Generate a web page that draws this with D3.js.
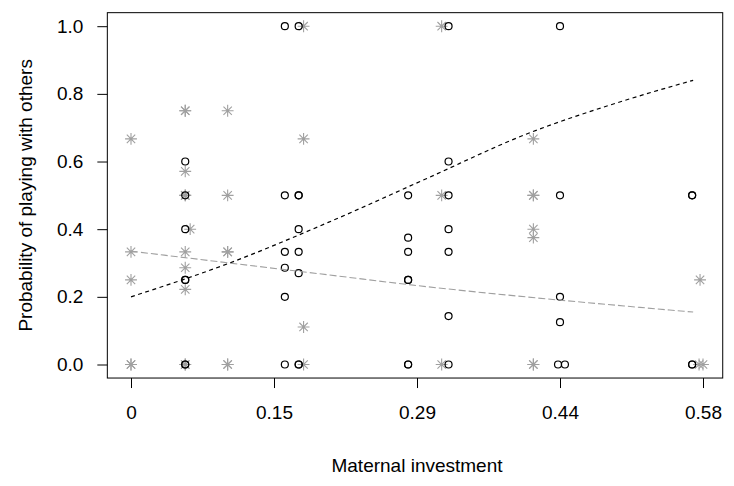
<!DOCTYPE html>
<html>
<head>
<meta charset="utf-8">
<script src="https://cdn.jsdelivr.net/npm/d3@7"></script>
<style>
  body { margin: 0; background: #fff; }
  text { font-family: "Liberation Sans", Arial, sans-serif; fill: #000; }
</style>
</head>
<body>
<div id="chart"></div>
<script>
// Dimensions of the page.
var width = 734;
var height = 486;

// Black open circles: maternal investment vs probability.
var circleX = [0.055, 0.055, 0.055, 0.055, 0.055, 0.055, 0.055,
               0.156, 0.156, 0.156, 0.156, 0.156, 0.156,
               0.170, 0.170, 0.170, 0.170, 0.170, 0.170, 0.170, 0.170,
               0.281, 0.281, 0.281, 0.281, 0.281, 0.281, 0.281,
               0.322, 0.322, 0.322, 0.322, 0.322, 0.322, 0.322,
               0.435, 0.435, 0.435, 0.435, 0.433, 0.440,
               0.569, 0.569, 0.569, 0.569];
var circleY = [0.60, 0.50, 0.40, 0.25, 0.25, 0, 0,
               1.00, 0.50, 0.333, 0.286, 0.20, 0,
               1.00, 0.50, 0.50, 0.40, 0.333, 0.27, 0, 0,
               0.50, 0.375, 0.333, 0.25, 0.25, 0, 0,
               1.00, 0.60, 0.50, 0.40, 0.333, 0.143, 0,
               1.00, 0.50, 0.20, 0.125, 0, 0,
               0.50, 0.50, 0, 0];

// Grey asterisks.
var starX = [0, 0, 0, 0, 0,
             0.055, 0.055, 0.055, 0.055, 0.055, 0.055, 0.055, 0.055, 0.055, 0.055, 0.060,
             0.098, 0.098, 0.098, 0.098, 0.098, 0.098,
             0.175, 0.175, 0.175, 0.175,
             0.315, 0.315, 0.315,
             0.408, 0.408, 0.408, 0.408, 0.408, 0.408, 0.408,
             0.577, 0.576, 0.580];
var starY = [0.667, 0.333, 0.25, 0, 0,
             0.75, 0.75, 0.571, 0.50, 0.50, 0.333, 0.286, 0.222, 0, 0, 0.40,
             0.75, 0.50, 0.333, 0.333, 0, 0,
             1.00, 0.667, 0.111, 0,
             1.00, 0.50, 0,
             0.667, 0.50, 0.50, 0.40, 0.375, 0, 0,
             0.25, 0, 0];

// Fitted curves.
var fitX = [0, 0.10, 0.20, 0.30, 0.40, 0.50, 0.57];
var fitBlack = [0.20, 0.30, 0.42, 0.55, 0.68, 0.78, 0.84];
var fitGrey = [0.335, 0.300, 0.265, 0.230, 0.200, 0.173, 0.155];

// Axis ticks.
var xTicks = [0, 0.145, 0.29, 0.435, 0.58];
var xTickLabels = ["0", "0.15", "0.29", "0.44", "0.58"];
var yTicks = [0, 0.2, 0.4, 0.6, 0.8, 1.0];

var grey = "#a0a0a0";

var svg = d3.select("#chart").append("svg")
    .attr("width", width)
    .attr("height", height);

var x = d3.scaleLinear().domain([0, 0.58]).range([131, 703]);
var y = d3.scaleLinear().domain([0, 1]).range([364.5, 26.2]);

// plot box (R style 4% padding)
var x0 = x(-0.024), x1 = x(0.6);
var y0 = y(-0.04), y1 = y(1.04);

svg.append("rect")
    .attr("x", x0)
    .attr("y", y1)
    .attr("width", x1 - x0)
    .attr("height", y0 - y1)
    .attr("fill", "none")
    .attr("stroke", "#000")
    .attr("stroke-width", 1);

// x axis
var xAxis = svg.append("g")
    .attr("transform", "translate(0," + y0 + ")")
    .call(d3.axisBottom(x)
        .tickValues(xTicks)
        .tickFormat(function(d, i) { return xTickLabels[i]; })
        .tickSizeOuter(0)
        .tickSize(10)
        .tickPadding(17));
xAxis.select(".domain").remove();
xAxis.selectAll("text")
    .attr("font-size", 19)
    .style("font-family", '"Liberation Sans", Arial, sans-serif');

// y axis
var yAxis = svg.append("g")
    .attr("transform", "translate(" + x0 + ",0)")
    .call(d3.axisLeft(y)
        .tickValues(yTicks)
        .tickFormat(d3.format(".1f"))
        .tickSizeOuter(0)
        .tickSize(10)
        .tickPadding(14));
yAxis.select(".domain").remove();
yAxis.selectAll("text")
    .attr("font-size", 19)
    .style("font-family", '"Liberation Sans", Arial, sans-serif');

// axis titles
svg.append("text")
    .attr("x", x(0.29))
    .attr("y", 472)
    .attr("text-anchor", "middle")
    .attr("font-size", 19)
    .text("Maternal investment");

svg.append("text")
    .attr("transform", "translate(32," + ((y0 + y1) / 2) + ") rotate(-90)")
    .attr("text-anchor", "middle")
    .attr("font-size", 19)
    .text("Probability of playing with others");

// asterisk symbol (R pch = 8): a plus and a cross
function asterisk(r) {
  var p = Math.SQRT2 * r;
  return "M" + (-p) + ",0H" + p + "M0," + (-p) + "V" + p +
         "M" + (-r) + "," + (-r) + "L" + r + "," + r +
         "M" + (-r) + "," + r + "L" + r + "," + (-r);
}

svg.append("g").selectAll("path")
    .data(d3.range(starX.length))
    .enter().append("path")
    .attr("d", asterisk(4.2))
    .attr("transform", function(i) { return "translate(" + x(starX[i]) + "," + y(starY[i]) + ")"; })
    .attr("fill", "none")
    .attr("stroke", grey)
    .attr("stroke-width", 1.1);

svg.append("g").selectAll("circle")
    .data(d3.range(circleX.length))
    .enter().append("circle")
    .attr("cx", function(i) { return x(circleX[i]); })
    .attr("cy", function(i) { return y(circleY[i]); })
    .attr("r", 3.5)
    .attr("fill", "none")
    .attr("stroke", "#000")
    .attr("stroke-width", 1.2);

// fitted lines
var line = d3.line()
    .x(function(d, i) { return x(fitX[i]); })
    .y(function(d) { return y(d); })
    .curve(d3.curveMonotoneX);

svg.append("path")
    .attr("d", line(fitGrey))
    .attr("fill", "none")
    .attr("stroke", grey)
    .attr("stroke-width", 1.1)
    .attr("stroke-dasharray", "7,3");

svg.append("path")
    .attr("d", line(fitBlack))
    .attr("fill", "none")
    .attr("stroke", "#000")
    .attr("stroke-width", 1.2)
    .attr("stroke-dasharray", "4,3.5");
</script>
</body>
</html>
